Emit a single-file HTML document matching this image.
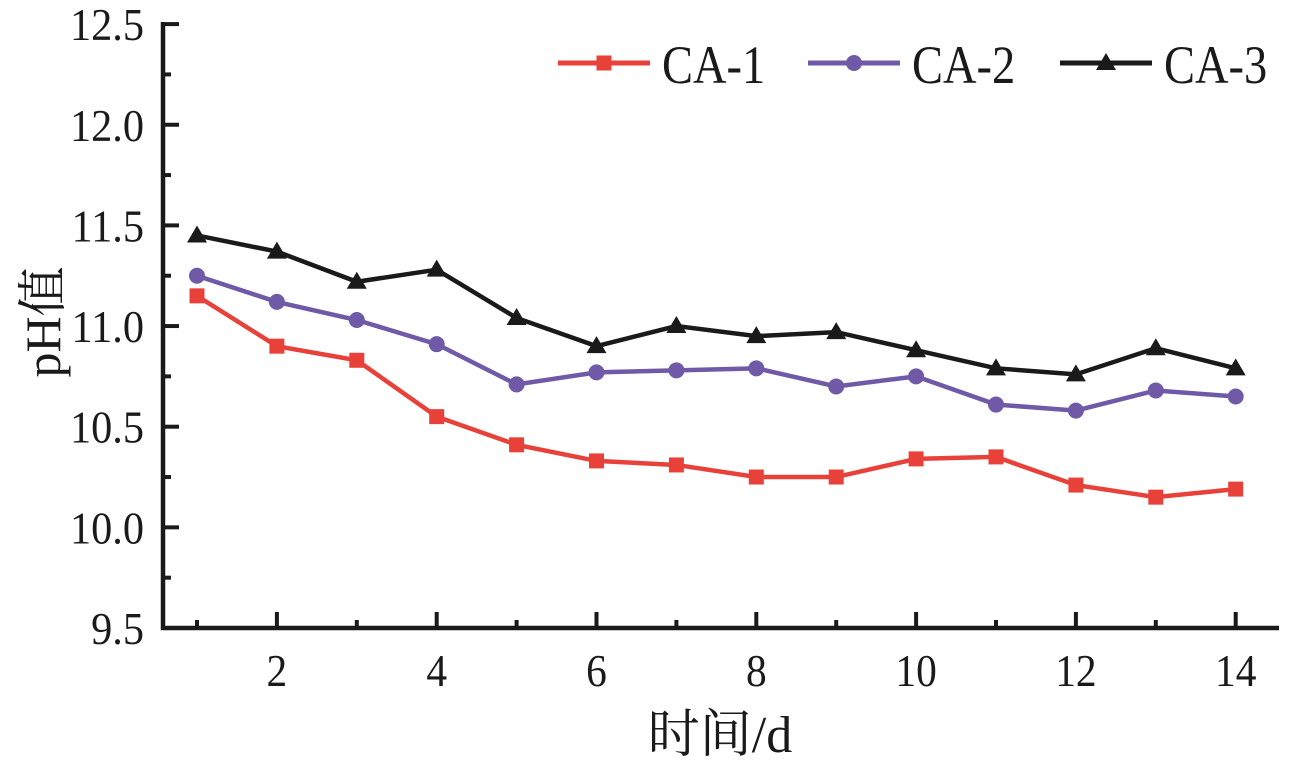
<!DOCTYPE html>
<html><head><meta charset="utf-8"><style>
body{margin:0;background:#fff}
text{font-family:"Liberation Serif","Noto Serif CJK SC",serif}
</style></head><body>
<svg id="chart" width="1289" height="764" xmlns="http://www.w3.org/2000/svg"></svg>
<script>
const days=[1,2,3,4,5,6,7,8,9,10,11,12,13,14];
const ca1=[11.15,10.90,10.83,10.55,10.41,10.33,10.31,10.25,10.25,10.34,10.35,10.21,10.15,10.19];
const ca2=[11.25,11.12,11.03,10.91,10.71,10.77,10.78,10.79,10.70,10.75,10.61,10.58,10.68,10.65];
const ca3=[11.45,11.37,11.22,11.28,11.04,10.90,11.00,10.95,10.97,10.88,10.79,10.76,10.89,10.79];
const yTicks=[9.5,10.0,10.5,11.0,11.5,12.0,12.5];
const xTicks=[2,4,6,8,10,12,14];
const NS="http://www.w3.org/2000/svg";
const svg=document.getElementById('chart');
const X=d=>197+(d-1)*79.9;
const Y=v=>628-(v-9.5)*201.3;
function el(t,a,p){const e=document.createElementNS(NS,t);for(const k in a)e.setAttribute(k,a[k]);(p||svg).appendChild(e);return e;}
let ax=el('path',{d:'M163,22 V628 H1279',fill:'none',stroke:'#1a1a1a','stroke-width':4.5});


for(let i=0;i<yTicks.length;i++){
 const v=yTicks[i];
 let t=el('line',{x1:163,x2:179,y1:Y(v),y2:Y(v),stroke:'#1a1a1a','stroke-width':4});
 
 
 if(i<yTicks.length-1){let m=el('line',{x1:163,x2:171,y1:Y(v+0.25),y2:Y(v+0.25),stroke:'#1a1a1a','stroke-width':4});
 
 }
 let l=el('text',{x:0,y:0,'text-anchor':'end','font-size':46,fill:'#1a1a1a',transform:`translate(144,${Y(v)+16}) scale(0.92,1)`});
 l.textContent=v.toFixed(1);
 
 
}
for(const d of days){
 const major=xTicks.includes(d);
 let t=el('line',{x1:X(d),x2:X(d),y1:628,y2:major?612:620,stroke:'#1a1a1a','stroke-width':4});
 
 
}
for(const d of xTicks){
 let l=el('text',{x:0,y:0,'text-anchor':'middle','font-size':46,fill:'#1a1a1a',transform:`translate(${X(d)},686) scale(0.9,1)`});
 l.textContent=d;
 
 
}
let xt=el('text',{x:720,y:752,'text-anchor':'middle','font-size':52,fill:'#1a1a1a'});
xt.textContent='时间/d';


let yt=el('text',{x:0,y:0,'text-anchor':'middle','font-size':50,fill:'#1a1a1a',transform:'translate(60,322) rotate(-90)'});
yt.textContent='pH值';


function marker(shape,x,y,c,name){
 let m;
 if(shape==='sq')m=el('rect',{x:x-7.5,y:y-7.5,width:15,height:15,fill:c});
 else if(shape==='ci')m=el('circle',{cx:x,cy:y,r:8,fill:c});
 else m=el('polygon',{points:`${x},${y-10} ${x+10},${y+7} ${x-10},${y+7}`,fill:c});
 
 
}
const series=[[ca1,'#e8413a','sq','ca1'],[ca2,'#7059a6','ci','ca2'],[ca3,'#1a1a1a','tr','ca3']];
for(const [vals,c,sh,n] of series){
 let p=el('polyline',{points:vals.map((v,i)=>X(days[i])+','+Y(v)).join(' '),fill:'none',stroke:c,'stroke-width':4.5});
 
 
 vals.forEach((v,i)=>marker(sh,X(days[i]),Y(v),c,n+'-point'));
}
const leg=[['CA-1','#e8413a','sq',558],['CA-2','#7059a6','ci',808],['CA-3','#1a1a1a','tr',1060]];
for(const [lab,c,sh,x0] of leg){
 let g=el('g',{});
 
 
 el('line',{x1:x0,x2:x0+92,y1:63,y2:63,stroke:c,'stroke-width':5},g);
 marker(sh,x0+46,63,c,'legend-marker');
 let t=el('text',{x:0,y:0,'font-size':54,fill:'#1a1a1a',transform:`translate(${x0+104},83) scale(0.86,1)`},g);
 t.textContent=lab;
 
 
}
</script>
</body></html>
